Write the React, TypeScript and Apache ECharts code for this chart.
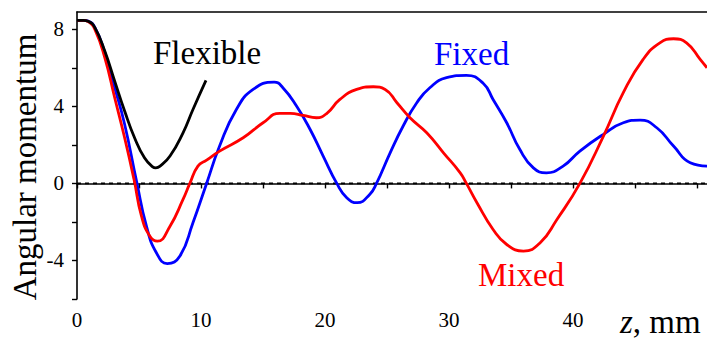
import React, { useEffect, useRef } from "react";
import * as echarts from "echarts";

// ---- data ----
const flexibleZ = [0, 0.5, 0.9, 1.44, 2.24, 3.04, 3.84, 4.64, 5.44, 6.1, 6.35, 6.7, 7.5, 8.55, 9.35, 10.4];
const flexibleM = [8.47, 8.47, 8.42, 8.09, 6.87, 5.31, 3.76, 2.37, 1.33, 0.86, 0.81, 0.9, 1.42, 2.63, 3.84, 5.35];

const fixedZ = [0, 0.5, 0.9, 1.44, 2.24, 3.04, 3.84, 4.8, 5.6, 6.4, 7.28, 8.3, 9.35, 10.45, 11.5, 12.85, 14.2, 15.9, 16.6, 17.7, 18.8, 19.85, 20.95, 21.75, 22.6, 23.6, 24.15, 25.25, 26.3, 27.4, 28.45, 29.8, 31.4, 32.75, 33.55, 34.65, 35.7, 36.8, 37.85, 39.2, 40.55, 42.45, 44.05, 45.4, 46.75, 48.1, 49.45, 50.8];
const fixedM = [8.47, 8.47, 8.43, 8.1, 6.8, 4.97, 3.07, 0.12, -2.22, -3.6, -4.16, -3.77, -2.04, 0, 1.94, 3.84, 4.88, 5.26, 4.97, 4.02, 2.8, 1.42, 0, -0.74, -1.0, -0.57, 0, 1.59, 2.98, 4.19, 4.97, 5.49, 5.61, 5.2, 4.36, 3.15, 1.77, 0.81, 0.55, 0.9, 1.68, 2.55, 3.15, 3.29, 2.89, 1.94, 1.07, 0.9];

const mixedZ = [0, 0.5, 0.9, 1.44, 2.24, 3.04, 3.84, 4.6, 5.2, 5.88, 6.48, 7.5, 8.55, 9.1, 9.75, 10.45, 11.5, 13.4, 15.0, 16.35, 17.2, 18.25, 19.3, 20.15, 21.2, 22.55, 23.9, 24.85, 25.8, 26.85, 28.2, 29.55, 30.9, 31.4, 32.25, 33.55, 34.65, 36.0, 37.35, 38.7, 40.55, 42.45, 44.05, 45.65, 47.0, 48.1, 49.15, 50.25, 50.8];
const mixedM = [8.47, 8.47, 8.4, 8.0, 6.53, 4.45, 2.37, 0.2, -1.7, -2.74, -3.0, -2.22, -0.83, 0, 0.9, 1.21, 1.68, 2.37, 3.15, 3.64, 3.64, 3.53, 3.41, 3.64, 4.36, 4.88, 5.02, 4.88, 4.19, 3.41, 2.63, 1.59, 0.55, 0, -1.0, -2.39, -3.17, -3.51, -3.08, -1.87, 0, 2.46, 4.71, 6.44, 7.3, 7.51, 7.3, 6.44, 6.0];

const zeroZ = [0, 50.8];
const zeroM = [0, 0];

const xTicks = [0, 5, 10, 15, 20, 25, 30, 35, 40, 45, 50];
const xLabels = [0, 10, 20, 30, 40];
const yTicks = [-6, -4, -2, 0, 2, 4, 6, 8];
const yLabels = [-4, 0, 4, 8];

const zip = (a: number[], b: number[]) => a.map((v, i) => [v, b[i]]);

const SERIF = "Liberation Serif, Times New Roman, serif";

export default function App() {
  const ref = useRef<HTMLDivElement>(null);
  useEffect(() => {
    if (!ref.current) return;
    const chart = echarts.init(ref.current, undefined, { renderer: "svg" });
    const axisLine = { show: true, lineStyle: { color: "#000", width: 1.6 } };
    const bigText = (text: string, x: number, y: number, fill: string) => ({
      type: "text",
      x,
      y,
      style: { text, fill, fontFamily: SERIF, fontSize: 33, align: "left", verticalAlign: "middle" },
    });
    chart.setOption({
      animation: false,
      backgroundColor: "#fff",
      textStyle: { fontFamily: SERIF },
      grid: { left: 77, right: 0, top: 12, bottom: 40 },
      xAxis: [
        {
          type: "value",
          min: 0,
          max: 50.8,
          interval: 5,
          axisLine,
          splitLine: { show: false },
          axisTick: { show: true, length: 5, customValues: xTicks, lineStyle: { color: "#000", width: 1.4 } },
          axisLabel: {
            customValues: xLabels,
            margin: 10,
            color: "#000",
            fontFamily: SERIF,
            fontSize: 21,
          },
        },
        {
          type: "value",
          position: "top",
          min: 0,
          max: 50.8,
          axisLine,
          axisTick: { show: false },
          axisLabel: { show: false },
          splitLine: { show: false },
        },
      ],
      yAxis: {
        type: "value",
        min: -6,
        max: 8.9,
        interval: 2,
        axisLine,
        splitLine: { show: false },
        axisTick: { show: true, length: 5, customValues: yTicks, lineStyle: { color: "#000", width: 1.4 } },
        axisLabel: {
          customValues: yLabels,
          margin: 13,
          color: "#000",
          fontFamily: SERIF,
          fontSize: 21,
        },
      },
      series: [
        {
          type: "line",
          data: zip(zeroZ, zeroM),
          showSymbol: false,
          lineStyle: { color: "#000", width: 1.7, type: [4, 4] },
          silent: true,
        },
        {
          name: "Fixed",
          type: "line",
          data: zip(fixedZ, fixedM),
          showSymbol: false,
          smooth: 0.5,
          lineStyle: { color: "#0000ff", width: 2.8 },
        },
        {
          name: "Mixed",
          type: "line",
          data: zip(mixedZ, mixedM),
          showSymbol: false,
          smooth: 0.5,
          lineStyle: { color: "#ff0000", width: 2.8 },
        },
        {
          name: "Flexible",
          type: "line",
          data: zip(flexibleZ, flexibleM),
          showSymbol: false,
          smooth: 0.5,
          lineStyle: { color: "#000000", width: 2.8 },
        },
      ],
      graphic: [
        {
          type: "text",
          x: 25,
          y: 167,
          rotation: Math.PI / 2,
          style: {
            text: "Angular momentum",
            fill: "#000",
            fontFamily: SERIF,
            fontSize: 33,
            align: "center",
            verticalAlign: "middle",
          },
        },
        bigText("Flexible", 153, 53, "#000"),
        bigText("Fixed", 434, 54, "#0000ff"),
        bigText("Mixed", 478, 275, "#ff0000"),
        {
          type: "text",
          x: 620,
          y: 322,
          style: {
            rich: {
              i: { fontFamily: SERIF, fontSize: 33, fontStyle: "italic", fill: "#000" },
              n: { fontFamily: SERIF, fontSize: 33, fill: "#000" },
            },
            text: "{i|z}{n|, mm}",
            align: "left",
            verticalAlign: "middle",
          },
        },
      ],
    });
    return () => chart.dispose();
  }, []);
  return (
    <div
      ref={ref}
      style={{ position: "fixed", left: 0, top: 0, width: 707, height: 339, background: "#fff" }}
    />
  );
}
